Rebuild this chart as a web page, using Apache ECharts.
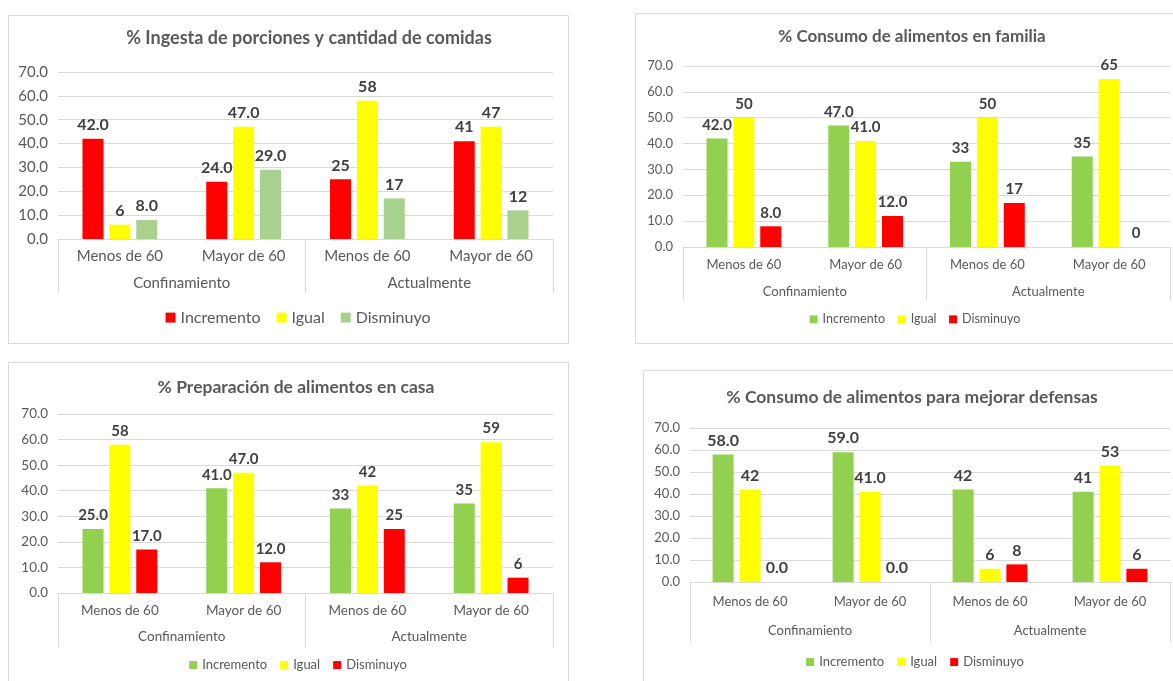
<!DOCTYPE html>
<html>
<head>
<meta charset="utf-8">
<script src="https://cdn.jsdelivr.net/npm/echarts@6/dist/echarts.min.js"></script>
<style>
  html, body { margin: 0; padding: 0; background: #fff; overflow: hidden; }
  #main { width: 1173px; height: 681px; }
</style>
</head>
<body>
<div id="main"></div>
<script>
// categorias del eje x (dos niveles)
const categorias = ['Menos de 60', 'Mayor de 60', 'Menos de 60', 'Mayor de 60'];
const periodos = ['Confinamiento', 'Actualmente'];
const nombres = ['Incremento', 'Igual', 'Disminuyo'];

// valores tal como aparecen en las etiquetas de datos
const ingestaIncremento = ['42.0', '24.0', '25', '41'];
const ingestaIgual = ['6', '47.0', '58', '47'];
const ingestaDisminuyo = ['8.0', '29.0', '17', '12'];

const familiaIncremento = ['42.0', '47.0', '33', '35'];
const familiaIgual = ['50', '41.0', '50', '65'];
const familiaDisminuyo = ['8.0', '12.0', '17', '0'];

const preparacionIncremento = ['25.0', '41.0', '33', '35'];
const preparacionIgual = ['58', '47.0', '42', '59'];
const preparacionDisminuyo = ['17.0', '12.0', '25', '6'];

const defensasIncremento = ['58.0', '59.0', '42', '41'];
const defensasIgual = ['42', '41.0', '6', '53'];
const defensasDisminuyo = ['0.0', '0.0', '8', '6'];

const ROJO = '#FF0000', AMARILLO = '#FFFF00', VERDE = '#92D050', VERDE_CLARO = '#A9D18E';
const GRIS = '#595959', LINEA = '#D9D9D9', FUENTE = 'Lato';

const paneles = [
  {
    box: [8, 15, 560, 328],
    title: '% Ingesta de porciones y cantidad de comidas', titleAt: [309, 38], titleSize: 18,
    grid: [58, 72, 495, 167], axisFont: 15, catMargin: 10, grpMargin: 37, tickLen: 54, labelSize: 16,
    legendAt: [298, 320], legendFont: 16, icon: 10,
    series: [ingestaIncremento, ingestaIgual, ingestaDisminuyo], colors: [ROJO, AMARILLO, VERDE_CLARO]
  },
  {
    box: [635, 13, 600, 330],
    title: '% Consumo de alimentos en familia', titleAt: [912, 37], titleSize: 17,
    grid: [683, 66, 487, 181], axisFont: 13, catMargin: 11, grpMargin: 38, tickLen: 53, labelSize: 15,
    legendAt: [915, 321], legendFont: 12.5, icon: 8,
    series: [familiaIncremento, familiaIgual, familiaDisminuyo], colors: [VERDE, AMARILLO, ROJO]
  },
  {
    box: [8, 362, 560, 330],
    title: '% Preparación de alimentos en casa', titleAt: [296, 387], titleSize: 17.5,
    grid: [58, 414, 495, 179], axisFont: 13.5, catMargin: 11, grpMargin: 37, tickLen: 54, labelSize: 15,
    legendAt: [298, 667], legendFont: 13, icon: 8,
    series: [preparacionIncremento, preparacionIgual, preparacionDisminuyo], colors: [VERDE, AMARILLO, ROJO]
  },
  {
    box: [643, 370, 600, 330],
    title: '% Consumo de alimentos para mejorar defensas', titleAt: [912, 397], titleSize: 17.5,
    grid: [690, 428, 480, 154], axisFont: 13, catMargin: 13, grpMargin: 42, tickLen: 60, labelSize: 16,
    legendAt: [915, 664], legendFont: 13, icon: 8,
    series: [defensasIncremento, defensasIgual, defensasDisminuyo], colors: [VERDE, AMARILLO, ROJO]
  }
];

// ancho de texto para centrar las leyendas
const ctx = document.createElement('canvas').getContext('2d');
function textWidth(t, size) {
  ctx.font = size + 'px ' + FUENTE;
  return ctx.measureText(t).width;
}

const option = {
  animation: false,
  textStyle: { fontFamily: FUENTE },
  title: [], grid: [], xAxis: [], yAxis: [], legend: [], series: [], graphic: []
};

paneles.forEach((p, i) => {
  option.graphic.push({
    type: 'rect', silent: true, z: -10,
    shape: { x: p.box[0] + 0.5, y: p.box[1] + 0.5, width: p.box[2], height: p.box[3] },
    style: { fill: 'none', stroke: LINEA, lineWidth: 1 }
  });
  option.title.push({
    text: p.title, left: p.titleAt[0], top: p.titleAt[1], textAlign: 'center', textVerticalAlign: 'middle',
    padding: 0,
    textStyle: { fontFamily: FUENTE, fontSize: p.titleSize, fontWeight: 'bold', color: GRIS }
  });
  option.grid.push({ left: p.grid[0], top: p.grid[1], width: p.grid[2], height: p.grid[3], containLabel: false });
  option.xAxis.push({
    type: 'category', gridIndex: i, data: categorias,
    axisLine: { show: true, lineStyle: { color: LINEA } },
    axisTick: { show: false },
    axisLabel: { interval: 0, margin: p.catMargin, fontSize: p.axisFont, color: GRIS, fontFamily: FUENTE }
  });
  option.xAxis.push({
    type: 'category', gridIndex: i, position: 'bottom', data: periodos,
    axisLine: { show: false },
    axisTick: { show: true, length: p.tickLen, lineStyle: { color: LINEA } },
    axisLabel: { interval: 0, margin: p.grpMargin, fontSize: p.axisFont, color: GRIS, fontFamily: FUENTE }
  });
  option.yAxis.push({
    type: 'value', gridIndex: i, min: 0, max: 70, interval: 10,
    axisLine: { show: false }, axisTick: { show: false },
    splitLine: { lineStyle: { color: LINEA } },
    axisLabel: { margin: 10, fontSize: p.axisFont, color: GRIS, fontFamily: FUENTE, formatter: v => v.toFixed(1) }
  });
  p.series.forEach((arr, k) => {
    option.series.push({
      name: nombres[k], type: 'bar', xAxisIndex: 2 * i, yAxisIndex: i,
      barWidth: 21, barGap: '28%',
      itemStyle: { color: p.colors[k] },
      data: arr.map(Number),
      label: {
        show: true, position: 'top', distance: 6,
        fontFamily: FUENTE, fontWeight: 'bold', fontSize: p.labelSize, color: '#404040',
        formatter: ps => arr[ps.dataIndex]
      }
    });
  });
  const gap = p.legendFont;
  let w = 0;
  nombres.forEach(n => { w += p.icon + 5 + textWidth(n, p.legendFont); });
  w += gap * 2;
  option.legend.push({
    left: p.legendAt[0] - w / 2, top: p.legendAt[1] - p.legendFont * 0.65, padding: 0,
    itemWidth: p.icon, itemHeight: p.icon, itemGap: gap, icon: 'rect', selectedMode: false,
    textStyle: { fontFamily: FUENTE, fontSize: p.legendFont, color: GRIS },
    data: nombres.map((n, k) => ({ name: n, itemStyle: { color: p.colors[k] } }))
  });
});

const chart = echarts.init(document.getElementById('main'));
chart.setOption(option);
</script>
</body>
</html>
